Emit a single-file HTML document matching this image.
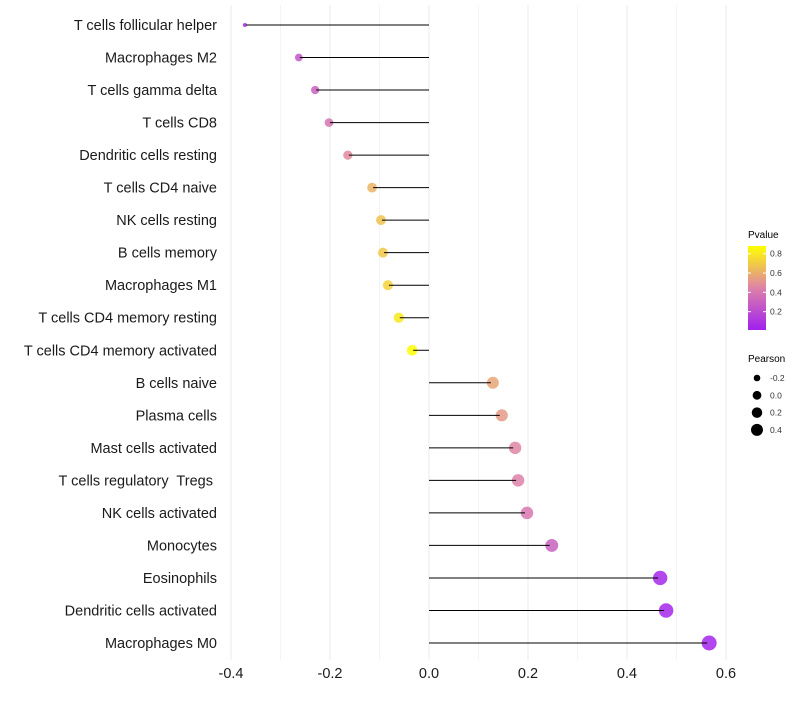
<!DOCTYPE html>
<html><head><meta charset="utf-8"><style>
body{margin:0;background:#fff;font-family:"Liberation Sans",sans-serif;}
svg text{font-family:"Liberation Sans",sans-serif;white-space:pre;}
</style></head><body>
<svg id="chart" width="800" height="700" viewBox="0 0 800 700" xmlns="http://www.w3.org/2000/svg">
<defs><linearGradient id="pg" x1="0" y1="1" x2="0" y2="0">
<stop offset="0" stop-color="#a020f0"/><stop offset="0.5" stop-color="#de82a8"/><stop offset="1" stop-color="#ffff00"/>
</linearGradient></defs>
<g id="grid"></g>
<g id="marks"></g>
<g id="ylabels"></g>
<g id="xlabels"></g>
<g>
<text x="748" y="238" font-size="10" fill="#000">Pvalue</text>
<rect x="748" y="246" width="18" height="84" fill="url(#pg)"/>
<g id="cbticks"></g>
</g>
<g>
<text x="748" y="362" font-size="10" fill="#000">Pearson</text>
<g id="sizeleg"></g>
</g>
</svg>
<script>
const categories=["T cells follicular helper","Macrophages M2","T cells gamma delta","T cells CD8","Dendritic cells resting","T cells CD4 naive","NK cells resting","B cells memory","Macrophages M1","T cells CD4 memory resting","T cells CD4 memory activated","B cells naive","Plasma cells","Mast cells activated","T cells regulatory  Tregs ","NK cells activated","Monocytes","Eosinophils","Dendritic cells activated","Macrophages M0"];
const pearson=[-0.372,-0.263,-0.230,-0.202,-0.164,-0.115,-0.097,-0.093,-0.083,-0.061,-0.034,0.129,0.147,0.174,0.180,0.198,0.248,0.467,0.479,0.566];
const pvalue=[0.05,0.25,0.3,0.38,0.47,0.62,0.67,0.69,0.73,0.8,0.88,0.57,0.53,0.46,0.44,0.4,0.3,0.05,0.04,0.03];
const xTicks=[-0.4,-0.2,0.0,0.2,0.4,0.6];
const xTickLabels=["-0.4","-0.2","0.0","0.2","0.4","0.6"];
const cbTicks=[0.2,0.4,0.6,0.8];
const sizeLegend=[-0.2,0.0,0.2,0.4];
const NS="http://www.w3.org/2000/svg";
function X(v){return 429+v*495;}
function Y(i){return 25+i*(618/(categories.length-1));}
function R(v){return 2+5.5*Math.sqrt(Math.max(0,(v+0.372)/0.938));}
function RL(v){return Math.sqrt(Math.max(2,19.3+41.7*v));}
function lerp(a,b,t){return a.map((x,k)=>Math.round(x+(b[k]-x)*t));}
function col(p){const t=Math.max(0,Math.min(1,(p-0.01)/0.87));const c0=[160,32,240],c1=[222,130,168],c2=[255,255,0];const c=t<0.5?lerp(c0,c1,t*2):lerp(c1,c2,(t-0.5)*2);return `rgb(${c})`;}
function mk(tag,attrs,parent){const e=document.createElementNS(NS,tag);for(const k in attrs)e.setAttribute(k,attrs[k]);parent.appendChild(e);return e;}
const grid=document.getElementById('grid'),marks=document.getElementById('marks'),yl=document.getElementById('ylabels'),xl=document.getElementById('xlabels');
for(let v=-0.4;v<=0.61;v+=0.1){const g=mk('line',{x1:X(v),x2:X(v),y1:5,y2:660,stroke:Math.abs(Math.round(v*10))%2===0?'#ebebeb':'#f4f4f4','stroke-width':1},grid);}
categories.forEach((c,i)=>{
 const y=Y(i);
 const d=mk('circle',{cx:X(pearson[i]),cy:y,r:R(pearson[i]),fill:col(pvalue[i]),'fill-opacity':0.85},marks);
 
 const l=mk('line',{x1:X(0),x2:X(pearson[i])+(pearson[i]<0?1:-2),y1:y,y2:y,stroke:'#000','stroke-width':1},marks);
 
 const t=mk('text',{x:217,y:y+5,'text-anchor':'end','font-size':14.5,fill:'#1a1a1a'},yl);t.textContent=c;
 
});
xTicks.forEach((v,i)=>{const t=mk('text',{x:X(v),y:678,'text-anchor':'middle','font-size':14.5,fill:'#1a1a1a'},xl);t.textContent=xTickLabels[i];});
const cb=document.getElementById('cbticks');
cbTicks.forEach(v=>{const y=330-(v-0.01)/0.87*84;mk('line',{x1:748,x2:751,y1:y,y2:y,stroke:'#fff'},cb);mk('line',{x1:763,x2:766,y1:y,y2:y,stroke:'#fff'},cb);const t=mk('text',{x:770,y:y+3,'font-size':8.5,fill:'#333'},cb);t.textContent=v.toFixed(1);});
const sl=document.getElementById('sizeleg');
sizeLegend.forEach((v,i)=>{const y=378+i*17.3;const c=mk('circle',{cx:757,cy:y,r:RL(v),fill:'#000'},sl);const t=mk('text',{x:770,y:y+3,'font-size':8.5,fill:'#333'},sl);t.textContent=v.toFixed(1);});
</script>
</body></html>
